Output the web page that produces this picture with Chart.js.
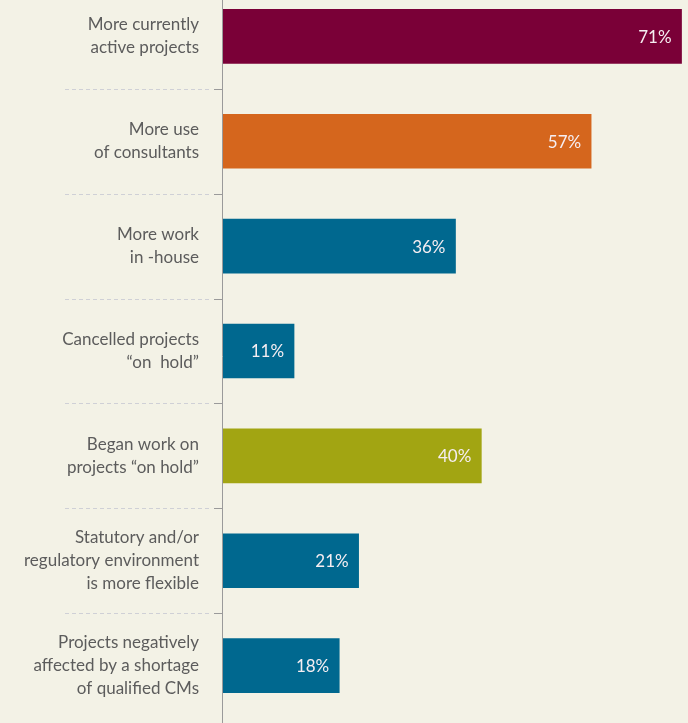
<!DOCTYPE html>
<html lang="en">
<head>
  <meta charset="UTF-8">
  <title>Project activity</title>
  <script src="https://cdn.jsdelivr.net/npm/chart.js"></script>
  <style>
    html, body { margin: 0; padding: 0; background: #f3f2e6; overflow: hidden; }
    #wrap { position: relative; width: 688px; height: 723px; overflow: hidden; }
    #graphique { position: absolute; left: 0; top: -16px; }
  </style>
</head>
<body>
  <div id="wrap">
    <canvas id="graphique" width="688" height="745"></canvas>
  </div>

  <script>
    const categories = [
      ["More currently", "active projects"],
      ["More use", "of consultants"],
      ["More work", "in -house"],
      ["Cancelled projects", "\u201con  hold\u201d"],
      ["Began work on", "projects \u201con hold\u201d"],
      ["Statutory and/or", "regulatory environment", "is more flexible"],
      ["Projects negatively", "affected by a shortage", "of qualified CMs"]
    ];
    const values = [71, 57, 36, 11, 40, 21, 18];
    const barColors = ["#7a0037", "#d5661d", "#00688f", "#00688f", "#a2a512", "#00688f", "#00688f"];

    const textColor = "#5c5c5c";
    const fontFamily = "Lato, 'Open Sans', sans-serif";

    // separators, axis line and the values written inside the bars
    const decor = {
      id: "decor",
      beforeDatasetsDraw(chart) {
        const { ctx, scales: { x, y } } = chart;
        const axisX = Math.round(x.getPixelForValue(0)) - 0.5;
        ctx.save();
        ctx.lineWidth = 1;
        for (let i = 0; i < categories.length - 1; i++) {
          const yy = Math.round((y.getPixelForValue(i) + y.getPixelForValue(i + 1)) / 2) + 0.5;
          ctx.strokeStyle = "#cfd0d6";
          ctx.setLineDash([4, 3]);
          ctx.beginPath();
          ctx.moveTo(65, yy);
          ctx.lineTo(209, yy);
          ctx.stroke();
          ctx.setLineDash([]);
          ctx.strokeStyle = "#9a9a9a";
          ctx.beginPath();
          ctx.moveTo(214, yy);
          ctx.lineTo(axisX, yy);
          ctx.stroke();
        }
        ctx.strokeStyle = "#9a9a9a";
        ctx.beginPath();
        ctx.moveTo(axisX, 0);
        ctx.lineTo(axisX, chart.height);
        ctx.stroke();
        ctx.restore();
      },
      afterDatasetsDraw(chart) {
        const { ctx } = chart;
        const meta = chart.getDatasetMeta(0);
        ctx.save();
        ctx.fillStyle = "#f6eef2";
        ctx.font = "17px " + fontFamily;
        ctx.textAlign = "right";
        ctx.textBaseline = "middle";
        meta.data.forEach((bar, i) => {
          ctx.fillText(values[i] + "%", bar.x - 10, bar.y + 1);
        });
        ctx.restore();
      }
    };

    new Chart(document.getElementById("graphique"), {
      type: "bar",
      data: {
        labels: categories,
        datasets: [{
          data: values,
          backgroundColor: barColors,
          borderWidth: 0,
          barThickness: 54
        }]
      },
      options: {
        indexAxis: "y",
        responsive: false,
        animation: false,
        layout: { padding: { top: 0, right: 0, bottom: 11, left: 0 } },
        plugins: {
          legend: { display: false },
          tooltip: { enabled: false }
        },
        scales: {
          x: {
            display: false,
            min: 0,
            max: 72
          },
          y: {
            grid: { display: false, drawTicks: false },
            border: { display: false },
            ticks: {
              color: textColor,
              padding: 24,
              font: { family: fontFamily, size: 17, lineHeight: 1.35 }
            },
            afterFit(scale) {
              scale.width = 223;
              scale.paddingTop = 0;
              scale.paddingBottom = 0;
            }
          }
        }
      },
      plugins: [decor]
    });
  </script>
</body>
</html>
